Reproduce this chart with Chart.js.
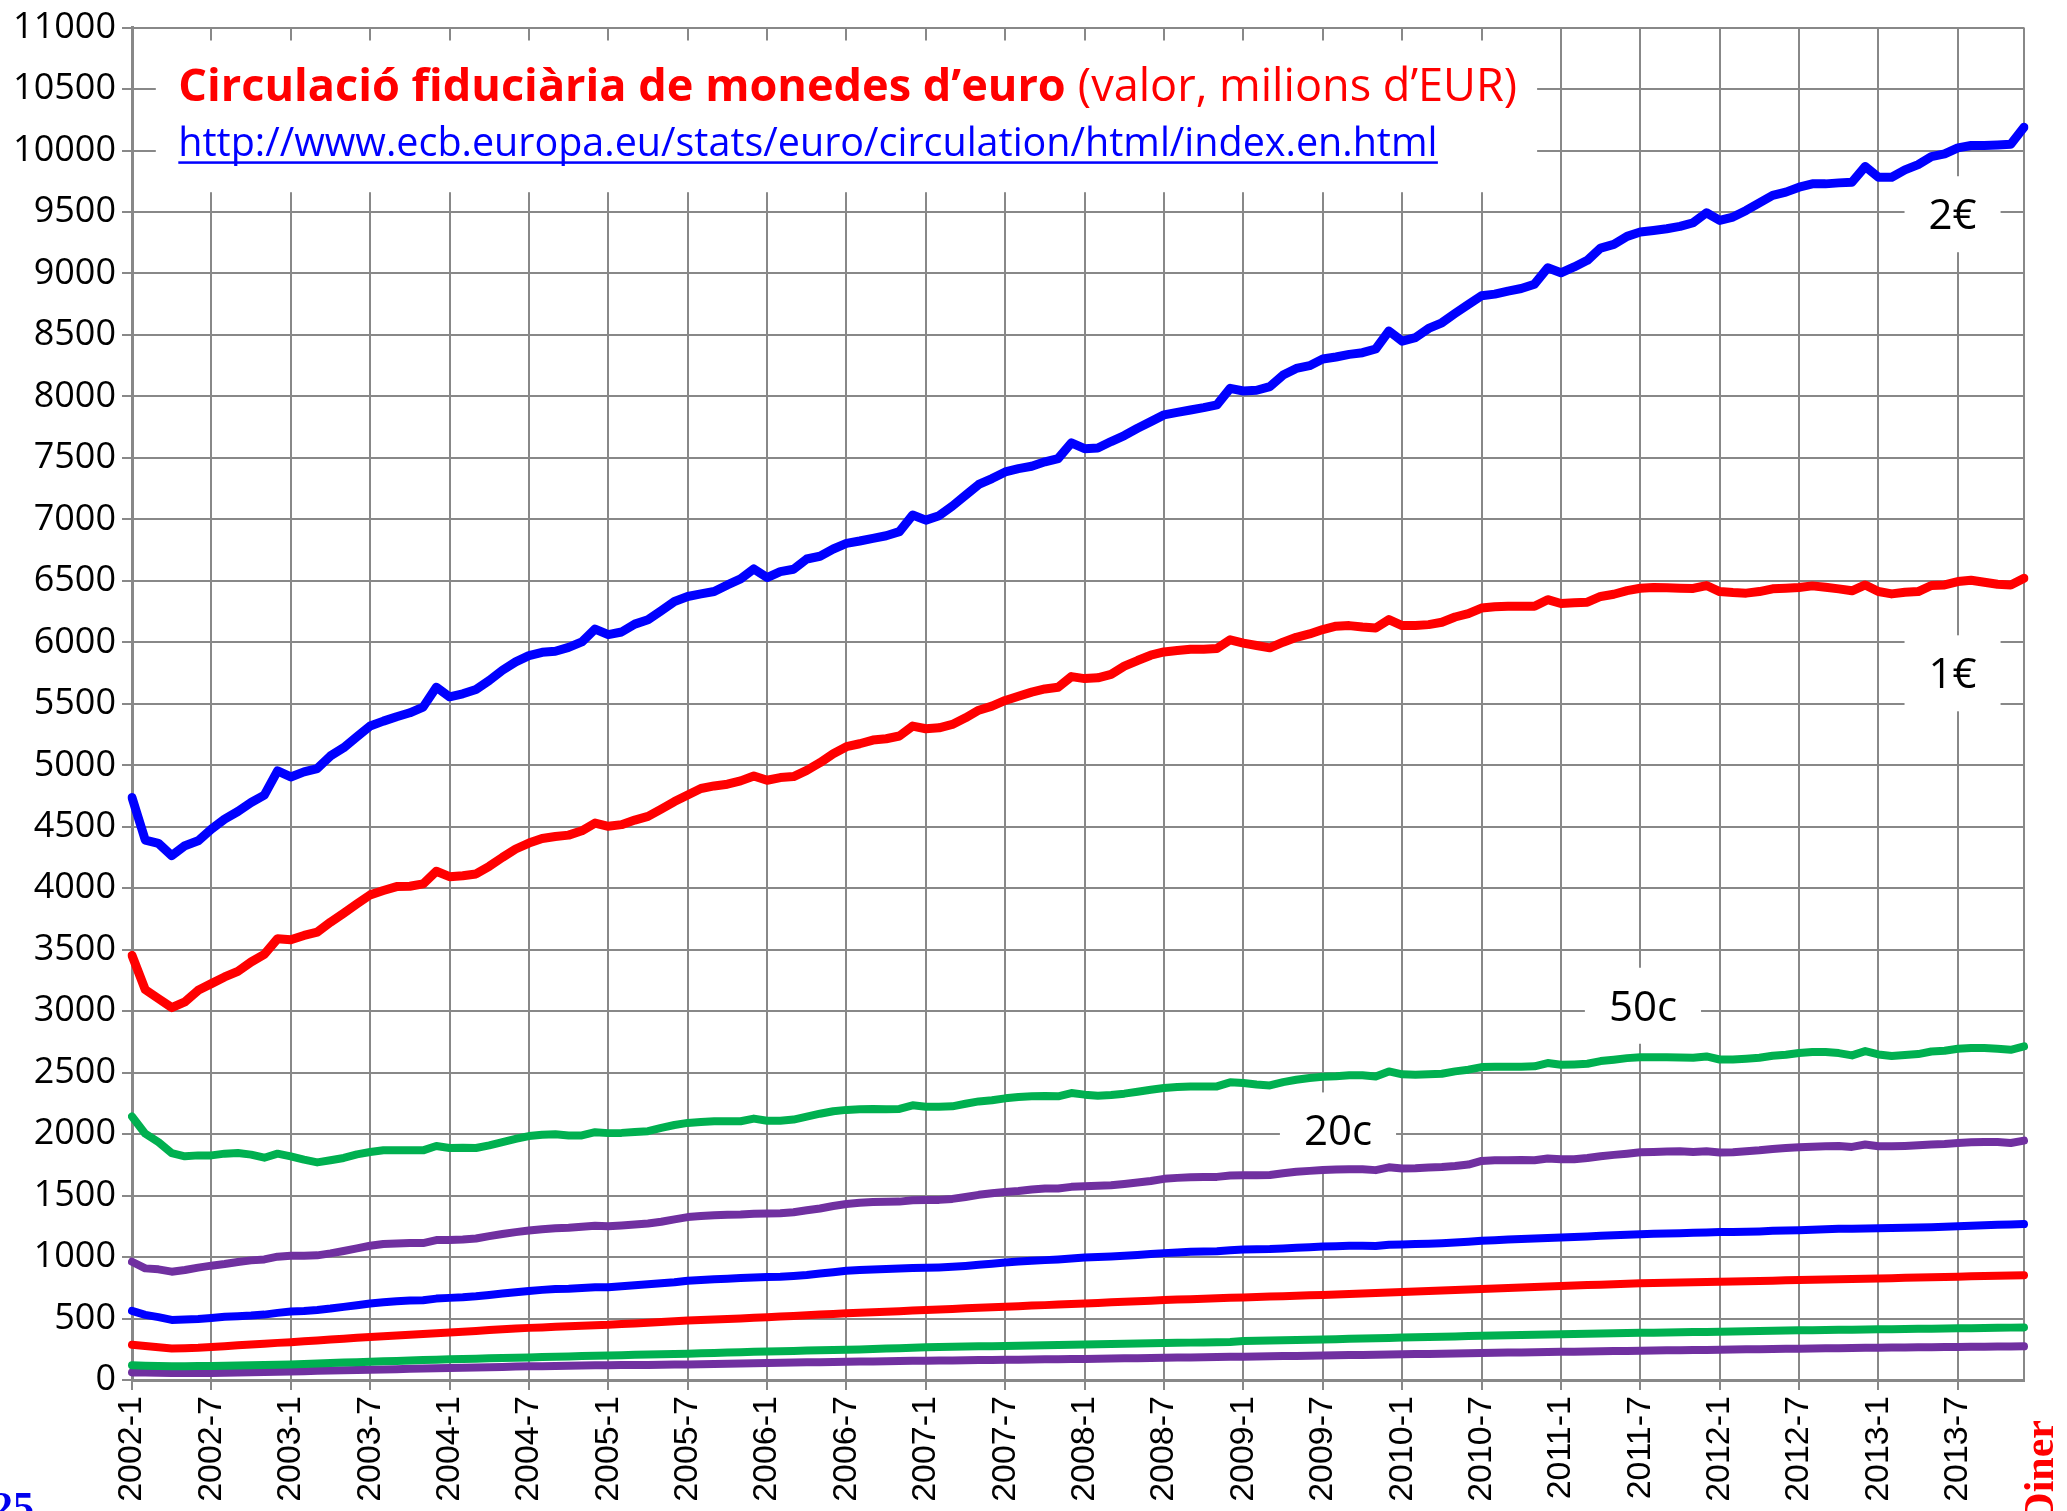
<!DOCTYPE html>
<html>
<head>
<meta charset="utf-8">
<title>Circulació fiduciària de monedes d'euro</title>
<script src="https://cdn.jsdelivr.net/npm/chart.js@4.4.1/dist/chart.umd.min.js"></script>
<style>
  html, body { margin: 0; padding: 0; background: #fff; }
  #wrap { width: 2067px; height: 1511px; position: relative; }
</style>
</head>
<body>
<div id="wrap"><canvas id="chart"></canvas></div>
<script>
// months 2002-1 .. 2013-12
const years = [2002, 2003, 2004, 2005, 2006, 2007, 2008, 2009, 2010, 2011, 2012, 2013];
const months = [];
years.forEach(y => { for (let m = 1; m <= 12; m++) months.push(y + "-" + m); });

const yMin = 0, yMax = 11000, yStep = 500;

// value in circulation, millions of EUR
const twoEuro = [
  4738, 4392, 4365, 4265, 4346, 4386, 4481, 4562, 4624, 4697, 4757, 4954,
  4905, 4946, 4973, 5076, 5143, 5232, 5319, 5359, 5395, 5427, 5473, 5635,
  5557, 5581, 5616, 5689, 5773, 5841, 5892, 5919, 5927, 5959, 6003, 6108,
  6062, 6084, 6148, 6184, 6257, 6332, 6373, 6394, 6413, 6467, 6516, 6597,
  6527, 6575, 6594, 6678, 6700, 6759, 6805, 6824, 6846, 6867, 6900, 7035,
  6994, 7030, 7108, 7197, 7284, 7332, 7386, 7413, 7432, 7468, 7495, 7622,
  7575, 7580, 7633, 7682, 7741, 7795, 7850, 7871, 7890, 7909, 7931, 8066,
  8044, 8050, 8080, 8174, 8228, 8250, 8304, 8321, 8342, 8356, 8386, 8532,
  8450, 8478, 8553, 8599, 8675, 8748, 8819, 8832, 8857, 8878, 8913, 9046,
  9006, 9053, 9107, 9207, 9237, 9302, 9337, 9350, 9364, 9383, 9413, 9494,
  9432, 9459, 9513, 9575, 9635, 9662, 9702, 9729, 9729, 9737, 9743, 9870,
  9783, 9783, 9843, 9886, 9951, 9973, 10022, 10041, 10041, 10046, 10051, 10189
];
const oneEuro = [
  3454, 3175, 3102, 3029, 3075, 3170, 3224, 3278, 3324, 3400, 3462, 3589,
  3581, 3616, 3643, 3724, 3797, 3873, 3946, 3981, 4013, 4016, 4035, 4138,
  4094, 4102, 4116, 4178, 4251, 4319, 4367, 4405, 4421, 4432, 4467, 4530,
  4504, 4517, 4554, 4584, 4643, 4705, 4759, 4811, 4832, 4846, 4873, 4913,
  4878, 4900, 4908, 4959, 5021, 5094, 5151, 5175, 5205, 5216, 5238, 5319,
  5297, 5305, 5332, 5386, 5448, 5481, 5527, 5562, 5595, 5621, 5635, 5721,
  5705, 5711, 5740, 5806, 5852, 5895, 5922, 5933, 5944, 5944, 5949, 6020,
  5993, 5974, 5955, 6001, 6041, 6068, 6104, 6131, 6136, 6125, 6117, 6185,
  6136, 6136, 6144, 6163, 6206, 6233, 6279, 6290, 6293, 6293, 6293, 6347,
  6316, 6321, 6326, 6373, 6391, 6421, 6440, 6446, 6443, 6440, 6438, 6462,
  6413, 6405, 6400, 6413, 6435, 6440, 6446, 6459, 6448, 6435, 6419, 6467,
  6413, 6394, 6408, 6413, 6462, 6467, 6494, 6505, 6489, 6473, 6467, 6521
];
const fiftyCent = [
  2143, 2003, 1935, 1846, 1819, 1827, 1827, 1841, 1846, 1833, 1808, 1841,
  1819, 1792, 1770, 1787, 1806, 1835, 1854, 1868, 1868, 1868, 1868, 1903,
  1887, 1889, 1887, 1908, 1935, 1962, 1984, 1995, 1998, 1989, 1989, 2016,
  2008, 2010, 2017, 2024, 2051, 2074, 2091, 2099, 2104, 2105, 2105, 2126,
  2109, 2109, 2118, 2142, 2166, 2186, 2197, 2203, 2205, 2203, 2205, 2234,
  2223, 2223, 2226, 2247, 2266, 2275, 2291, 2302, 2307, 2310, 2307, 2334,
  2321, 2312, 2318, 2329, 2345, 2361, 2375, 2383, 2388, 2388, 2388, 2421,
  2415, 2404, 2396, 2423, 2442, 2456, 2466, 2471, 2479, 2479, 2469, 2510,
  2486, 2483, 2486, 2491, 2510, 2524, 2545, 2548, 2548, 2548, 2551, 2578,
  2564, 2567, 2572, 2594, 2605, 2618, 2626, 2626, 2626, 2624, 2621, 2632,
  2607, 2607, 2613, 2621, 2637, 2645, 2659, 2667, 2667, 2659, 2640, 2675,
  2648, 2635, 2643, 2651, 2672, 2678, 2694, 2700, 2700, 2694, 2686, 2713
];
const twentyCent = [
  962, 908, 900, 881, 895, 914, 930, 943, 960, 973, 981, 1003,
  1011, 1011, 1014, 1030, 1049, 1070, 1092, 1106, 1111, 1114, 1114, 1138,
  1138, 1143, 1151, 1170, 1187, 1203, 1216, 1227, 1235, 1238, 1246, 1254,
  1251, 1257, 1265, 1273, 1287, 1306, 1325, 1333, 1340, 1345, 1347, 1353,
  1354, 1357, 1365, 1380, 1395, 1415, 1432, 1441, 1447, 1450, 1451, 1462,
  1465, 1465, 1473, 1489, 1506, 1519, 1530, 1538, 1549, 1557, 1557, 1571,
  1576, 1579, 1584, 1595, 1606, 1619, 1636, 1644, 1649, 1652, 1652, 1663,
  1665, 1665, 1668, 1682, 1693, 1701, 1708, 1712, 1715, 1715, 1707, 1730,
  1720, 1722, 1728, 1733, 1741, 1752, 1782, 1787, 1787, 1790, 1787, 1801,
  1795, 1795, 1806, 1820, 1831, 1841, 1852, 1855, 1858, 1860, 1855, 1860,
  1850, 1852, 1860, 1868, 1879, 1887, 1893, 1898, 1901, 1904, 1896, 1915,
  1901, 1901, 1904, 1909, 1915, 1920, 1928, 1933, 1936, 1936, 1928, 1947
];
const tenCent = [
  562, 530, 511, 489, 492, 497, 505, 514, 519, 524, 532, 546,
  557, 562, 570, 581, 595, 608, 622, 632, 641, 646, 649, 662,
  668, 673, 681, 692, 703, 714, 724, 733, 741, 743, 749, 754,
  755, 762, 770, 778, 787, 795, 808, 813, 820, 824, 829, 833,
  838, 840, 846, 854, 866, 877, 889, 895, 899, 903, 907, 910,
  913, 916, 921, 928, 937, 946, 956, 963, 970, 975, 981, 989,
  997, 1001, 1005, 1010, 1016, 1024, 1032, 1038, 1043, 1046, 1048, 1055,
  1062, 1063, 1065, 1070, 1075, 1080, 1085, 1088, 1091, 1092, 1090, 1100,
  1103, 1106, 1108, 1112, 1118, 1125, 1132, 1137, 1142, 1146, 1150, 1155,
  1159, 1164, 1168, 1173, 1177, 1182, 1186, 1189, 1192, 1194, 1197, 1200,
  1203, 1204, 1205, 1208, 1213, 1216, 1219, 1223, 1226, 1230, 1231, 1233,
  1235, 1236, 1238, 1240, 1243, 1247, 1251, 1255, 1258, 1262, 1264, 1268
];
const fiveCent = [
  287, 276, 266, 257, 259, 262, 268, 275, 282, 289, 295, 302,
  308, 315, 322, 329, 336, 343, 349, 355, 362, 368, 375, 381,
  387, 393, 399, 406, 412, 418, 424, 428, 433, 438, 442, 446,
  449, 455, 460, 466, 472, 477, 483, 488, 492, 497, 501, 506,
  510, 516, 521, 526, 532, 537, 542, 547, 551, 556, 560, 565,
  569, 574, 578, 583, 587, 592, 596, 600, 605, 609, 614, 618,
  623, 627, 632, 636, 641, 645, 650, 654, 657, 661, 665, 668,
  672, 675, 679, 682, 686, 689, 692, 696, 700, 704, 708, 711,
  715, 719, 723, 728, 732, 736, 740, 744, 748, 752, 756, 760,
  764, 768, 772, 775, 779, 782, 786, 788, 790, 793, 795, 797,
  799, 801, 804, 806, 808, 811, 813, 815, 817, 819, 822, 824,
  826, 828, 831, 833, 835, 838, 840, 843, 845, 848, 850, 853
];
const twoCent = [
  119, 116, 113, 111, 112, 113, 114, 116, 118, 120, 123, 125,
  127, 131, 134, 138, 142, 145, 149, 152, 155, 159, 162, 165,
  168, 171, 173, 176, 179, 181, 184, 187, 189, 192, 195, 197,
  200, 202, 205, 207, 209, 212, 214, 217, 220, 223, 226, 229,
  232, 234, 236, 239, 241, 244, 246, 249, 253, 256, 259, 263,
  266, 268, 270, 272, 274, 275, 277, 279, 281, 283, 285, 286,
  288, 290, 292, 294, 296, 298, 300, 302, 304, 306, 308, 310,
  318, 320, 322, 324, 326, 328, 330, 332, 335, 337, 340, 342,
  345, 347, 350, 352, 354, 357, 359, 361, 363, 366, 368, 370,
  372, 374, 376, 378, 380, 382, 384, 385, 387, 388, 390, 391,
  393, 395, 397, 398, 400, 402, 404, 405, 406, 408, 409, 410,
  412, 413, 414, 416, 417, 418, 420, 421, 423, 424, 426, 428
];
const oneCent = [
  62, 60, 58, 57, 57, 57, 57, 59, 61, 64, 66, 68,
  70, 72, 75, 77, 79, 82, 84, 86, 88, 91, 93, 95,
  97, 99, 102, 104, 106, 109, 111, 112, 114, 116, 117, 119,
  120, 121, 122, 123, 124, 126, 127, 129, 131, 133, 135, 137,
  139, 140, 142, 144, 145, 147, 149, 150, 151, 153, 154, 156,
  157, 158, 159, 161, 162, 163, 164, 165, 166, 168, 169, 170,
  171, 173, 174, 176, 177, 179, 180, 182, 184, 185, 187, 189,
  190, 192, 193, 195, 196, 198, 200, 201, 203, 204, 206, 207,
  209, 211, 212, 214, 216, 218, 220, 221, 223, 224, 226, 227,
  229, 230, 232, 233, 235, 236, 238, 239, 241, 242, 244, 245,
  247, 248, 250, 251, 253, 254, 255, 256, 258, 259, 260, 262,
  263, 264, 265, 266, 267, 268, 269, 270, 271, 272, 273, 274
];

const seriesNames = ["2€", "1€", "50c", "20c", "10c", "5c", "2c", "1c"];
const seriesData = [twoEuro, oneEuro, fiftyCent, twentyCent, tenCent, fiveCent, twoCent, oneCent];
const seriesColors = ["#0000FF", "#FF0000", "#00B050", "#7030A0", "#0000FF", "#FF0000", "#00B050", "#7030A0"];

const gridColor = "#888888";
const tickFont = "'Open Sans', 'DejaVu Sans', sans-serif";
const titleFont = "'Liberation Sans Narrow', 'Open Sans', sans-serif";

// labels written on the chart, placed in data units (month index, value)
const tags = [
  { text: "2€", month: 137.6, value: 9482 },
  { text: "1€", month: 137.6, value: 5748 },
  { text: "50c", month: 114.2, value: 3044 },
  { text: "20c", month: 91.15, value: 2030 }
];

const overlay = {
  id: "overlay",
  beforeDatasetsDraw(chart) {
    const { ctx, chartArea, scales: { x, y } } = chart;
    ctx.save();

    // right edge of the plot frame
    ctx.strokeStyle = gridColor;
    ctx.lineWidth = 2;
    ctx.beginPath();
    ctx.moveTo(chartArea.right, chartArea.top);
    ctx.lineTo(chartArea.right, chartArea.bottom);
    ctx.stroke();

    // title box
    const bx0 = x.getPixelForValue(1.8), bx1 = x.getPixelForValue(106.2);
    const by0 = y.getPixelForValue(10895), by1 = y.getPixelForValue(9661);
    ctx.fillStyle = "#fff";
    ctx.fillRect(bx0, by0, bx1 - bx0, by1 - by0);

    const tx = x.getPixelForValue(3.5);
    const bold = "Circulació fiduciària de monedes d’euro";
    const rest = " (valor, milions d’EUR)";
    ctx.font = "bold 100px " + titleFont;
    const wb = ctx.measureText(bold).width;
    ctx.font = "100px " + titleFont;
    const wr = ctx.measureText(rest).width;
    const tSize = 100 * (x.getPixelForValue(104.7) - tx) / (wb + wr);
    const tBase = y.getPixelForValue(10407);
    ctx.fillStyle = "#FF0000";
    ctx.textBaseline = "alphabetic";
    ctx.textAlign = "left";
    ctx.font = "bold " + tSize + "px " + titleFont;
    ctx.fillText(bold, tx, tBase);
    ctx.font = tSize + "px " + titleFont;
    ctx.fillText(rest, tx + wb * tSize / 100, tBase);

    const url = "http://www.ecb.europa.eu/stats/euro/circulation/html/index.en.html";
    ctx.font = "100px " + tickFont;
    const uw = ctx.measureText(url).width;
    const uSize = 100 * (x.getPixelForValue(98.7) - tx) / uw;
    const uBase = y.getPixelForValue(9953);
    ctx.font = uSize + "px " + tickFont;
    ctx.fillStyle = "#0000FF";
    ctx.fillText(url, tx, uBase);
    ctx.fillRect(tx, uBase + 5, uw * uSize / 100, 2.5);

    // series tags with white boxes
    ctx.font = "42px " + tickFont;
    ctx.textAlign = "center";
    tags.forEach(t => {
      const cx = x.getPixelForValue(t.month), cy = y.getPixelForValue(t.value);
      const w = ctx.measureText(t.text).width + 48;
      ctx.fillStyle = "#fff";
      ctx.fillRect(cx - w / 2, cy - 38, w, 76);
      ctx.fillStyle = "#000";
      ctx.fillText(t.text, cx, cy + 15);
    });
    ctx.restore();
  },
  afterDraw(chart) {
    // bits of the surrounding page that show at the corners
    const { ctx, width, height } = chart;
    ctx.save();
    ctx.font = "bold 42px 'Liberation Serif', 'DejaVu Serif', serif";
    ctx.fillStyle = "#0000EE";
    ctx.textAlign = "left";
    ctx.textBaseline = "alphabetic";
    ctx.fillText("25", -8, height + 10);
    ctx.translate(width - 14, height - 91);
    ctx.rotate(-Math.PI / 2);
    ctx.fillStyle = "#FF0000";
    ctx.textAlign = "right";
    ctx.fillText("Diner", 0, 0);
    ctx.restore();
  }
};

new Chart(document.getElementById("chart"), {
  type: "line",
  data: {
    labels: months,
    datasets: seriesData.map((d, i) => ({
      label: seriesNames[i],
      data: d,
      borderColor: seriesColors[i],
      backgroundColor: seriesColors[i],
      borderWidth: i < 2 ? 9 : 8,
      pointRadius: 0,
      tension: 0,
      fill: false,
      borderJoinStyle: "round",
      borderCapStyle: "round"
    }))
  },
  options: {
    responsive: true,
    maintainAspectRatio: false,
    animation: false,
    layout: { padding: { top: 23, right: 43, left: 0, bottom: 0 } },
    plugins: {
      legend: { display: false },
      tooltip: { enabled: false },
      title: { display: false }
    },
    scales: {
      x: {
        offset: false,
        grid: { color: gridColor, lineWidth: 2, tickLength: 10 },
        border: { color: gridColor, width: 3 },
        ticks: {
          autoSkip: false,
          minRotation: 90,
          maxRotation: 90,
          padding: 6,
          color: "#000",
          font: { family: "'Liberation Sans', Arial, sans-serif", size: 34 },
          callback: (v, i) => (i % 6 === 0 ? months[i] : null)
        },
        afterFit: s => { s.height = 131; }
      },
      y: {
        min: yMin,
        max: yMax,
        grid: { color: gridColor, lineWidth: 2, tickLength: 10 },
        border: { color: gridColor, width: 3 },
        ticks: {
          stepSize: yStep,
          padding: 6,
          color: "#000",
          font: { family: tickFont, size: 36 },
          callback: v => String(v)
        },
        afterFit: s => { s.width = 132; }
      }
    }
  },
  plugins: [overlay]
});
</script>
</body>
</html>
